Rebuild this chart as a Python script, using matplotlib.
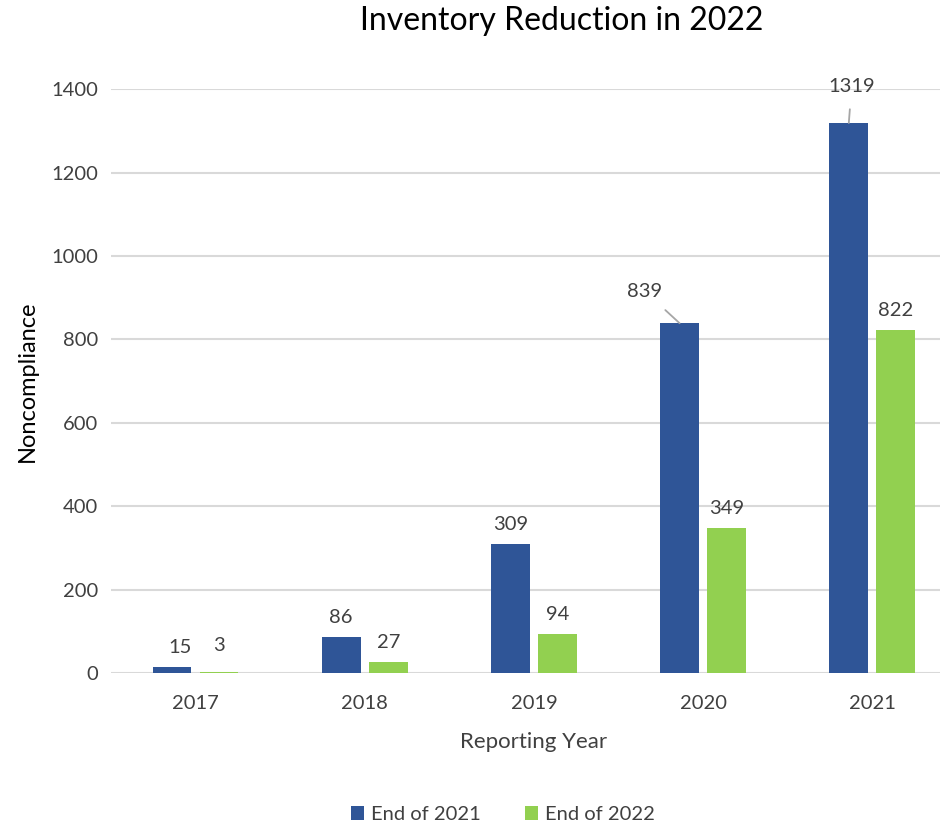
import numpy as np
from matplotlib import pyplot as plt

plt.rcParams['font.family'] = ['Lato', 'DejaVu Sans']

years = ["2017", "2018", "2019", "2020", "2021"]
end_2021 = [15, 86, 309, 839, 1319]
end_2022 = [3, 27, 94, 349, 822]

blue = "#2F5597"
green = "#92D050"
text_col = "#404040"

fig = plt.figure(figsize=(9.4, 8.26), dpi=100)
ax = fig.add_axes([0.118, 0.185, 0.90, 0.707])

x = np.arange(len(years))
w = 0.23
off = 0.139
ax.bar(x - off, end_2021, w, color=blue, label="End of 2021")
ax.bar(x + off, end_2022, w, color=green, label="End of 2022")

ax.set_xlim(-0.5, len(years) - 0.5)
ax.set_ylim(0, 1400)
ax.set_yticks(range(0, 1401, 200))
ax.set_xticks(x)
ax.set_xticklabels(years)
ax.yaxis.grid(True, color="#d9d9d9", linewidth=1.5)
ax.set_axisbelow(True)
for s in ax.spines.values():
    s.set_visible(False)
ax.tick_params(length=0, labelsize=14.5, colors=text_col, pad=9)
ax.tick_params(axis="x", pad=16)

# data labels, a couple with leader lines like in Excel
lead = {3: (-25, 23), 4: (2, 26)}
for i, v in enumerate(end_2021):
    if i in lead:
        ax.annotate(str(v), (x[i] - off, v), xytext=lead[i], textcoords="offset points",
                    ha="center", va="center", fontsize=14.5, color=text_col,
                    arrowprops=dict(arrowstyle="-", color="#a6a6a6", lw=1.3,
                                    shrinkA=8, shrinkB=0))
    else:
        dx = 6 if i == 0 else 0
        ax.annotate(str(v), (x[i] - off, v), xytext=(dx, 8), textcoords="offset points",
                    ha="center", va="bottom", fontsize=14.5, color=text_col)
for i, v in enumerate(end_2022):
    dy = 13 if i == 0 else 8
    ax.annotate(str(v), (x[i] + off, v), xytext=(0, dy), textcoords="offset points",
                ha="center", va="bottom", fontsize=14.5, color=text_col)

ax.set_xlabel("Reporting Year", fontsize=16, color=text_col, labelpad=14)
ax.set_ylabel("Noncompliance", fontsize=17, color="black", labelpad=10)
fig.text(0.598, 0.975, "Inventory Reduction in 2022", ha="center", va="center",
         fontsize=23, color="black")

fig.legend(loc="center", bbox_to_anchor=(0.535, 0.014), ncol=2, frameon=False,
           fontsize=14.5, handlelength=0.65, handleheight=0.65, handletextpad=0.35,
           columnspacing=2.2, labelcolor=text_col)

fig.savefig("out.png", dpi=100)
